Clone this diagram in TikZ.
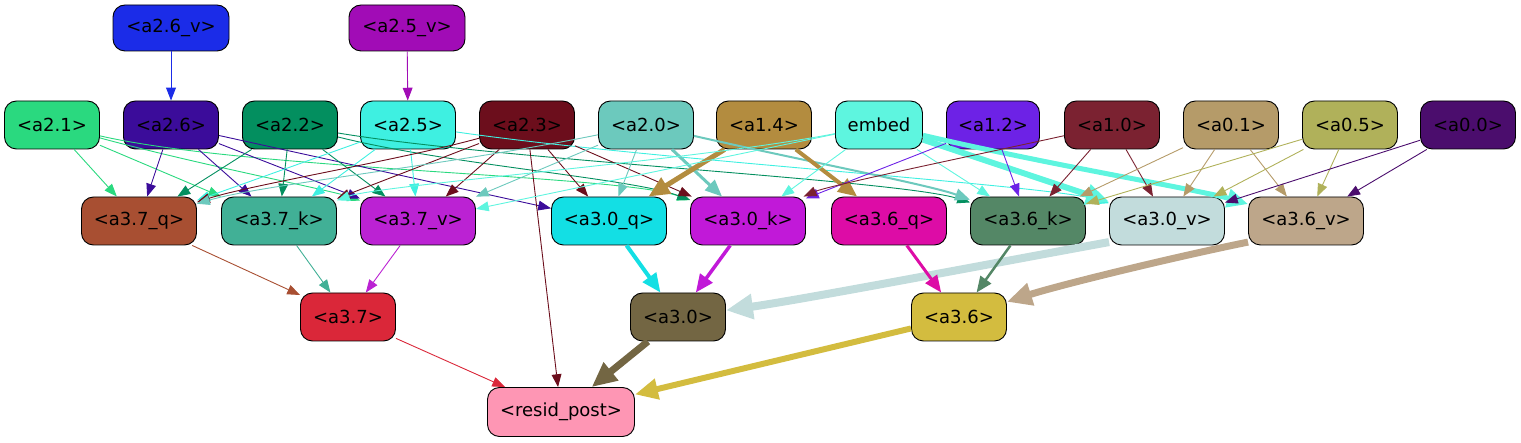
\documentclass[tikz,border=0pt]{standalone}
\usepackage{fontspec}
\setmainfont{DejaVu Sans}
\usetikzlibrary{arrows.meta}
\definecolor{ca26v}{HTML}{1B2CE8}
\definecolor{ca25v}{HTML}{A10CB6}
\definecolor{ca21}{HTML}{2AD97F}
\definecolor{ca26}{HTML}{3B0C9A}
\definecolor{ca22}{HTML}{038F5F}
\definecolor{ca25}{HTML}{3EF0E1}
\definecolor{ca23}{HTML}{6C0E1C}
\definecolor{ca20}{HTML}{6CC9BD}
\definecolor{ca14}{HTML}{B38C3F}
\definecolor{cemb}{HTML}{5EF5DF}
\definecolor{ca12}{HTML}{6D22E6}
\definecolor{ca10}{HTML}{7B2231}
\definecolor{ca01}{HTML}{B59B69}
\definecolor{ca05}{HTML}{B0B15A}
\definecolor{ca00}{HTML}{4B0D6D}
\definecolor{ca37q}{HTML}{A84F32}
\definecolor{ca37k}{HTML}{41B096}
\definecolor{ca37v}{HTML}{BB22D3}
\definecolor{ca30q}{HTML}{13DFE4}
\definecolor{ca30k}{HTML}{C119D8}
\definecolor{ca36q}{HTML}{DD0CA6}
\definecolor{ca36k}{HTML}{548766}
\definecolor{ca30v}{HTML}{C2DCDC}
\definecolor{ca36v}{HTML}{BDA68A}
\definecolor{ca37}{HTML}{DA2739}
\definecolor{ca30}{HTML}{736643}
\definecolor{ca36}{HTML}{D3BC3F}
\definecolor{cres}{HTML}{FE96B4}

\begin{document}
\begin{tikzpicture}[
    x=1pt, y=-1pt,
    box/.style={rectangle, draw=black, line width=0.9pt, rounded corners=12pt,
                minimum width=95pt, minimum height=48pt, inner sep=0pt,
                font=\fontsize{18}{21}\selectfont},
    wbox/.style={box, minimum width=115pt},
    arrow/.style={-{Triangle[length=11pt 2, width=8pt 2]}, line width=#1},
    arrow/.default=0.9pt
  ]
    \useasboundingbox (0,0) rectangle (1521,443);

    % inputs of the v heads
    \node[box, fill=ca26v, minimum width=116pt, minimum height=46pt] (a26v) at (171,28) {<a2.6\_v>};
    \node[box, fill=ca25v, minimum width=116pt, minimum height=46pt] (a25v) at (407,28) {<a2.5\_v>};

    % upstream nodes
    \node[box, fill=ca21] (a21) at (52,125)  {<a2.1>};
    \node[box, fill=ca26] (a26) at (171,125) {<a2.6>};
    \node[box, fill=ca22] (a22) at (290,125) {<a2.2>};
    \node[box, fill=ca25] (a25) at (408,125) {<a2.5>};
    \node[box, fill=ca23] (a23) at (527,125) {<a2.3>};
    \node[box, fill=ca20] (a20) at (646,125) {<a2.0>};
    \node[box, fill=ca14] (a14) at (764,125) {<a1.4>};
    \node[box, fill=cemb, minimum width=87pt] (emb) at (879,125) {embed};
    \node[box, fill=ca12, minimum width=93pt] (a12) at (993,125) {<a1.2>};
    \node[box, fill=ca10] (a10) at (1112,125) {<a1.0>};
    \node[box, fill=ca01] (a01) at (1231,125) {<a0.1>};
    \node[box, fill=ca05] (a05) at (1350,125) {<a0.5>};
    \node[box, fill=ca00] (a00) at (1468,125) {<a0.0>};

    % q / k / v
    \node[wbox, fill=ca37q] (a37q) at (139,221)  {<a3.7\_q>};
    \node[wbox, fill=ca37k] (a37k) at (279,221)  {<a3.7\_k>};
    \node[wbox, fill=ca37v] (a37v) at (418,221)  {<a3.7\_v>};
    \node[wbox, fill=ca30q] (a30q) at (609,221)  {<a3.0\_q>};
    \node[wbox, fill=ca30k] (a30k) at (748,221)  {<a3.0\_k>};
    \node[wbox, fill=ca36q] (a36q) at (889,221)  {<a3.6\_q>};
    \node[wbox, fill=ca36k] (a36k) at (1028,221) {<a3.6\_k>};
    \node[wbox, fill=ca30v] (a30v) at (1167,221) {<a3.0\_v>};
    \node[wbox, fill=ca36v] (a36v) at (1306,221) {<a3.6\_v>};

    % heads and output
    \node[box, fill=ca37] (a37) at (348,317) {<a3.7>};
    \node[box, fill=ca30] (a30) at (678,317) {<a3.0>};
    \node[box, fill=ca36] (a36) at (959,317) {<a3.6>};
    \node[box, fill=cres, minimum width=147pt, minimum height=49pt] (res) at (561,412) {<resid\_post>};

    \draw[arrow, ca26v] (a26v) -- (a26);
    \draw[arrow, ca25v] (a25v) -- (a25);

    \draw[arrow, ca21] (a21) -- (a37q);
    \draw[arrow, ca21] (a21) -- (a37k);
    \draw[arrow, ca21] (a21) .. controls (200,165) and (330,190) .. (a37v);
    \draw[arrow, ca21] (a21) .. controls (250,170) and (620,175) .. (a30k);

    \draw[arrow, ca26] (a26) -- (a37q);
    \draw[arrow, ca26] (a26) -- (a37k);
    \draw[arrow, ca26] (a26) -- (a37v);
    \draw[arrow, ca26] (a26) -- (a30q);

    \draw[arrow, ca22] (a22) -- (a37q);
    \draw[arrow, ca22] (a22) -- (a37k);
    \draw[arrow, ca22] (a22) -- (a37v);
    \draw[arrow, ca22] (a22) .. controls (450,165) and (630,178) .. (a30k);
    \draw[arrow, ca22] (a22) .. controls (500,160) and (900,180) .. (a36k);

    \draw[arrow, ca25] (a25) -- (a37q);
    \draw[arrow, ca25] (a25) -- (a37k);
    \draw[arrow, ca25] (a25) -- (a37v);
    \draw[arrow, ca25] (a25) .. controls (650,160) and (1050,185) .. (a30v);

    \draw[arrow, ca23] (a23) .. controls (400,160) and (250,185) .. (a37q);
    \draw[arrow, ca23] (a23) -- (a37k);
    \draw[arrow, ca23] (a23) -- (a37v);
    \draw[arrow, ca23] (a23) -- (a30q);
    \draw[arrow, ca23] (a23) -- (a30k);
    \draw[arrow, ca23] (a23) -- (res);

    \draw[arrow, ca20] (a20) .. controls (450,165) and (260,185) .. (a37q);
    \draw[arrow, ca20] (a20) -- (a37v);
    \draw[arrow, ca20] (a20) -- (a30q);
    \draw[arrow=3pt, ca20] (a20) -- (a30k);
    \draw[arrow=2pt, ca20] (a20) .. controls (800,160) and (930,185) .. (a36k);

    \draw[arrow=5pt, ca14] (a14) -- (a30q);
    \draw[arrow=4pt, ca14] (a14) -- (a36q);

    \draw[arrow, cemb] (emb) .. controls (700,160) and (380,185) .. (a37k);
    \draw[arrow, cemb] (emb) -- (a37v);
    \draw[arrow, cemb] (emb) -- (a30k);
    \draw[arrow, cemb] (emb) -- (a36k);
    \draw[arrow=6pt, cemb] (emb) -- (a30v);
    \draw[arrow=5pt, cemb] (emb) .. controls (1050,165) and (1200,190) .. (a36v);

    \draw[arrow, ca12] (a12) -- (a30k);
    \draw[arrow, ca12] (a12) -- (a36k);

    \draw[arrow, ca10] (a10) .. controls (1000,150) and (830,185) .. (a30k);
    \draw[arrow, ca10] (a10) -- (a36k);
    \draw[arrow, ca10] (a10) -- (a30v);

    \draw[arrow, ca01] (a01) -- (a36k);
    \draw[arrow, ca01] (a01) -- (a30v);
    \draw[arrow, ca01] (a01) -- (a36v);

    \draw[arrow, ca05] (a05) -- (a36k);
    \draw[arrow, ca05] (a05) -- (a30v);
    \draw[arrow, ca05] (a05) -- (a36v);

    \draw[arrow, ca00] (a00) -- (a30v);
    \draw[arrow, ca00] (a00) -- (a36v);

    \draw[arrow, ca37q] (a37q) -- (a37);
    \draw[arrow, ca37k] (a37k) -- (a37);
    \draw[arrow, ca37v] (a37v) -- (a37);

    \draw[arrow=4pt, ca30q] (a30q) -- (a30);
    \draw[arrow=3.5pt, ca30k] (a30k) -- (a30);
    \draw[arrow=8pt, ca30v] (a30v.200) .. controls (1000,262) and (800,300) .. (a30);

    \draw[arrow=3pt, ca36q] (a36q) -- (a36);
    \draw[arrow=2.5pt, ca36k] (a36k) -- (a36);
    \draw[arrow=7pt, ca36v] (a36v.200) .. controls (1170,258) and (1060,285) .. (a36);

    \draw[arrow, ca37] (a37) -- (res);
    \draw[arrow=7pt, ca30] (a30) -- (res);
    \draw[arrow=6pt, ca36] (a36) -- (res);
\end{tikzpicture}
\end{document}
